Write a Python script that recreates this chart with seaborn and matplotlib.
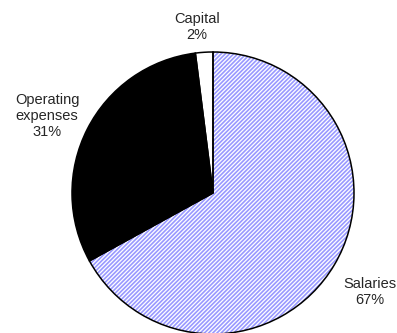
import matplotlib
matplotlib.use("Agg")
import matplotlib.pyplot as plt
import seaborn as sns

# Budget breakdown (percent of total)
categories = ["Salaries", "Operating expenses", "Capital"]
shares = [67, 31, 2]
label_text = ["Salaries", "Operating\nexpenses", "Capital"]

sns.set_style("white")
plt.rcParams["font.family"] = ["Liberation Sans", "DejaVu Sans"]
plt.rcParams["hatch.linewidth"] = 1.2

fig = plt.figure(figsize=(3.97, 3.33), dpi=100)
ax = fig.add_axes([(213 - 141) / 397, (333 - 193 - 141) / 333, 282 / 397, 282 / 333])

face_colors = ["white", "black", "white"]
hatch_colors = ["#9999ff", "black", "white"]
hatches = ["////////", None, None]

# fill layer (hatch colour follows the edge colour, so no outline here)
wedges, _ = ax.pie(shares, startangle=90, counterclock=False, colors=face_colors,
                   wedgeprops=dict(linewidth=0))
for w, hc, h in zip(wedges, hatch_colors, hatches):
    w.set_edgecolor(hc)
    w.set_linewidth(0)
    if h:
        w.set_hatch(h)

# outline layer
ax.pie(shares, startangle=90, counterclock=False,
       wedgeprops=dict(fill=False, edgecolor="black", linewidth=1.1))

ax.set_xlim(-1, 1)
ax.set_ylim(-1, 1)
ax.axis("off")

label_pos = {"Salaries": (1.113, -0.70),
             "Operating expenses": (-1.177, 0.546),
             "Capital": (-0.113, 1.18)}
for cat, txt, val in zip(categories, label_text, shares):
    x, y = label_pos[cat]
    ax.text(x, y, f"{txt}\n{val}%", ha="center", va="center", fontsize=10.5,
            linespacing=1.2, clip_on=False)

fig.savefig("out.png", dpi=100)
